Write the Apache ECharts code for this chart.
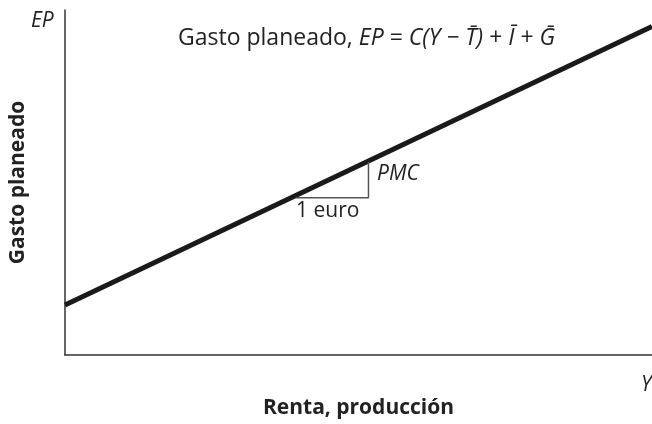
<!DOCTYPE html>
<html>
<head>
<meta charset="utf-8">
<script src="https://cdn.jsdelivr.net/npm/echarts@6/dist/echarts.min.js"></script>
<style>
  html, body { margin: 0; padding: 0; background: #fff; }
  #chart { width: 652px; height: 424px; }
</style>
</head>
<body>
<div id="chart"></div>
<script>
// renta (eje x) y gasto planeado (eje y), en unidades arbitrarias
const renta = [0, 10];
const gasto = [1.45, 9.52];
// triangulo de la pendiente (1 euro -> PMC)
const trianguloX = [3.93, 5.17, 5.17];
const trianguloY = [4.56, 4.56, 5.6];

const fuente = '"Open Sans", Lato, sans-serif';

const contenedor = document.getElementById('chart');
const grafico = echarts.init(contenedor);

const option = {
  animation: false,
  grid: { left: 64, right: 0, top: 10, bottom: 61 },
  xAxis: {
    type: 'value', min: 0, max: 10,
    name: 'Renta, producción',
    nameLocation: 'middle', nameGap: 43,
    nameTextStyle: { fontFamily: fuente, fontWeight: 'bold', fontSize: 21, color: '#222' },
    axisLine: { lineStyle: { color: '#333', width: 1.5 } },
    axisTick: { show: false }, axisLabel: { show: false }, splitLine: { show: false }
  },
  yAxis: {
    type: 'value', min: 0, max: 10,
    name: 'Gasto planeado',
    nameLocation: 'middle', nameGap: 36,
    nameTextStyle: { fontFamily: fuente, fontWeight: 'bold', fontSize: 21, color: '#222' },
    axisLine: { show: true, lineStyle: { color: '#333', width: 1.5 } },
    axisTick: { show: false }, axisLabel: { show: false }, splitLine: { show: false }
  },
  series: [
    {
      type: 'line',
      data: renta.map((x, i) => [x, gasto[i]]),
      symbol: 'none',
      lineStyle: { color: '#1a1a1a', width: 5 }
    },
    {
      type: 'line',
      data: trianguloX.map((x, i) => [x, trianguloY[i]]),
      symbol: 'none',
      lineStyle: { color: '#555', width: 1.5 }
    }
  ],
  graphic: [
    {
      type: 'text', left: 31, top: 11,
      style: { text: 'EP', font: 'italic 21px ' + fuente, fill: '#222' }
    },
    {
      type: 'text', left: 641, top: 375,
      style: { text: 'Y', font: 'italic 21px ' + fuente, fill: '#222' }
    },
    {
      type: 'text', left: 178, top: 27,
      style: {
        text: '{n|Gasto planeado, }{i|EP}{n| = }{i|C(Y − T\u0304)}{n| + }{i|Ī}{n| + }{i|Ḡ}',
        rich: {
          n: { font: '23px ' + fuente, fill: '#222' },
          i: { font: 'italic 23px ' + fuente, fill: '#222' }
        }
      }
    },
    {
      type: 'text', left: 296, top: 201,
      style: { text: '1 euro', font: '21px ' + fuente, fill: '#222' }
    },
    {
      type: 'text', left: 377, top: 164,
      style: { text: 'PMC', font: 'italic 21px ' + fuente, fill: '#222' }
    }
  ]
};

grafico.setOption(option);
</script>
</body>
</html>
